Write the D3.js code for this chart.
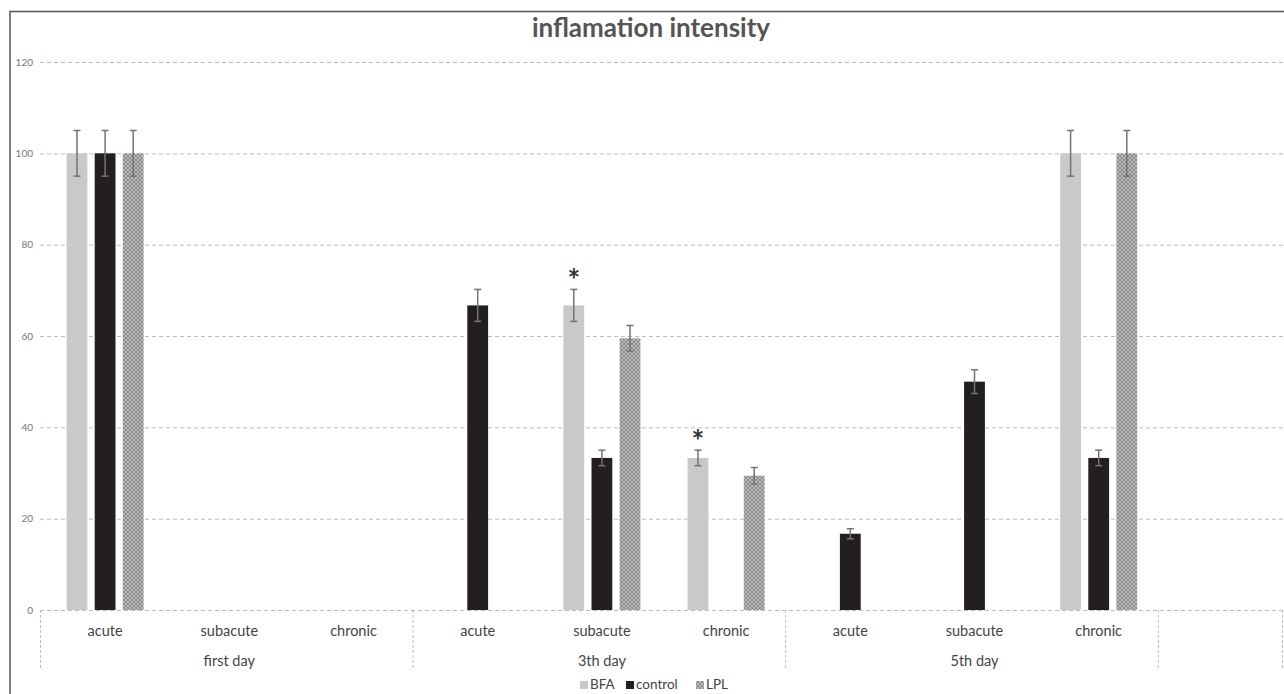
<!DOCTYPE html>
<html><head><meta charset="utf-8">
<script src="https://cdn.jsdelivr.net/npm/d3@7"></script>
<style>body{margin:0;background:#fff;}svg{display:block;}</style>
</head><body>
<svg id="c" width="1284" height="694"></svg>
<script>
const categories = ["acute","subacute","chronic","acute","subacute","chronic","acute","subacute","chronic",""];
const groups = ["first day","3th day","5th day"];
const seriesNames = ["BFA","control","LPL"];
const BFA     = [100, 0, 0, 0, 66.7, 33.3, 0, 0, 100, 0];
const control = [100, 0, 0, 66.7, 33.3, 0, 16.7, 50, 33.3, 0];
const LPL     = [100, 0, 0, 0, 59.5, 29.4, 0, 0, 100, 0];
const BFAerr     = [5, null, null, null, 3.5, 1.7, null, null, 5, null];
const controlErr = [5, null, null, 3.5, 1.7, null, 1.1, 2.6, 1.7, null];
const LPLerr     = [5, null, null, null, 2.8, 1.8, null, null, 5, null];
const stars = [{cat:4, series:0}, {cat:5, series:0}];
const yTicks = [0,20,40,60,80,100,120];

const svg = d3.select("#c");
const font = "Lato, 'Open Sans', sans-serif";
const defs = svg.append("defs");
const pat = defs.append("pattern").attr("id","zig").attr("patternUnits","userSpaceOnUse")
  .attr("width",4).attr("height",4);
pat.append("rect").attr("width",4).attr("height",4).attr("fill","#b9b9b9");
pat.append("path").attr("d","M0,0 L2,2 L4,0 M0,4 L2,2 L4,4").attr("stroke","#8c8c8c").attr("stroke-width",1).attr("fill","none");

// border
svg.append("rect").attr("x",10).attr("y",11.5).attr("width",1300).attr("height",700)
  .attr("fill","none").attr("stroke","#555").attr("stroke-width",1.5);

const x = d3.scaleBand().domain(d3.range(categories.length)).range([40,1282]).padding(0);
const y = d3.scaleLinear().domain([0,120]).range([610,62]);
const off = 3;

// title
svg.append("text").attr("x",651).attr("y",37).attr("text-anchor","middle")
  .attr("font-family",font).attr("font-weight","bold").attr("font-size",26).attr("fill","#555")
  .text("inflamation intensity");

// gridlines
svg.append("g").selectAll("line").data(yTicks).join("line")
  .attr("x1",40).attr("x2",1284).attr("y1",d=>y(d)+0.5).attr("y2",d=>y(d)+0.5)
  .attr("stroke","#bdbdbd").attr("stroke-width",1).attr("stroke-dasharray","4,3");

// y axis
const yAxis = d3.axisLeft(y).tickValues(yTicks).tickSize(0).tickPadding(0);
const yg = svg.append("g").attr("transform","translate(33,0)").call(yAxis);
yg.select(".domain").remove();
yg.selectAll("text").attr("font-family",font).attr("font-size",10).attr("fill","#777");

// bars
const seriesData = [BFA, control, LPL];
const errData = [BFAerr, controlErr, LPLerr];
const fills = ["#c9c9c9","#231f20","url(#zig)"];
const inner = d3.scaleBand().domain([0,1,2]).range([-38.5,38.5]).paddingInner(0.26);
const barX = (i,s)=>x(i)+x.bandwidth()/2+inner(s)+off;
const barsG = svg.append("g");
seriesData.forEach((vals,s)=>{
  barsG.append("g").selectAll("rect").data(vals.map((v,i)=>({v,i}))).join("rect")
    .attr("x",d=>barX(d.i,s))
    .attr("width",inner.bandwidth())
    .attr("y",d=>y(d.v))
    .attr("height",d=>y(0)-y(d.v))
    .attr("fill",fills[s]);
});
// error bars
seriesData.forEach((vals,s)=>{
  const data = vals.map((v,i)=>({v,i,e:errData[s][i]})).filter(d=>d.e!=null);
  const g = barsG.append("g").attr("stroke","#737373").attr("stroke-width",1.5);
  data.forEach(d=>{
    const cx = barX(d.i,s)+inner.bandwidth()/2;
    g.append("line").attr("x1",cx).attr("x2",cx).attr("y1",y(d.v+d.e)).attr("y2",y(d.v-d.e));
    g.append("line").attr("x1",cx-3.5).attr("x2",cx+3.5).attr("y1",y(d.v+d.e)).attr("y2",y(d.v+d.e));
    g.append("line").attr("x1",cx-3.5).attr("x2",cx+3.5).attr("y1",y(d.v-d.e)).attr("y2",y(d.v-d.e));
  });
});
// stars
stars.forEach(st=>{
  const v = seriesData[st.series][st.cat], e = errData[st.series][st.cat];
  const cx = barX(st.cat,st.series)+inner.bandwidth()/2;
  svg.append("text").attr("x",cx).attr("y",y(v+e)+2).attr("text-anchor","middle")
    .attr("font-family",font).attr("font-size",30).attr("font-weight","bold").attr("fill","#333").text("*");
});

// x axis: category labels
const xg = svg.append("g");
xg.selectAll("text.cat").data(categories).join("text").attr("class","cat")
  .attr("x",(d,i)=>x(i)+x.bandwidth()/2+off).attr("y",636).attr("text-anchor","middle")
  .attr("font-family",font).attr("font-size",14.5).attr("fill","#444").text(d=>d);
xg.selectAll("text.grp").data(groups).join("text").attr("class","grp")
  .attr("x",(d,i)=>x(i*3+1)+x.bandwidth()/2+off).attr("y",666).attr("text-anchor","middle")
  .attr("font-family",font).attr("font-size",14.5).attr("fill","#444").text(d=>d);
// separators
const seps = [0,3,6,9,10];
xg.selectAll("line").data(seps).join("line")
  .attr("x1",d=>(d<10?x(d):x(9)+x.bandwidth())+0.5).attr("x2",d=>(d<10?x(d):x(9)+x.bandwidth())+0.5)
  .attr("y1",610).attr("y2",669).attr("stroke","#bdbdbd").attr("stroke-dasharray","3,2");

// legend
const leg = svg.append("g");
const legX = [580, 626, 696];
seriesNames.forEach((n,i)=>{
  leg.append("rect").attr("x",legX[i]).attr("y",681).attr("width",8).attr("height",8).attr("fill",fills[i]);
  leg.append("text").attr("x",legX[i]+10).attr("y",689).attr("font-family",font).attr("font-size",13.5)
    .attr("fill","#444").text(n);
});
</script>
</body></html>
